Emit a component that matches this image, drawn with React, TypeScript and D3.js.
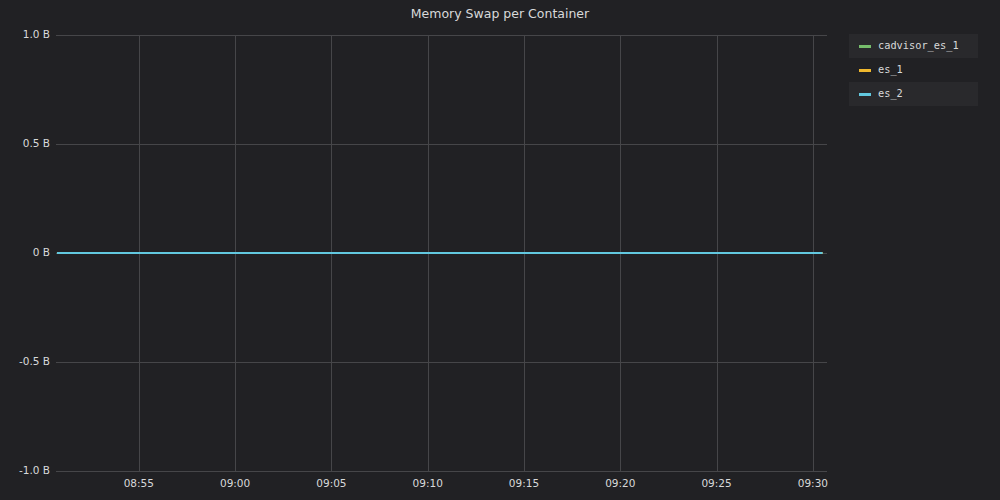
import * as d3 from "d3";
import {useEffect, useRef} from "react";

// sample times (hh:mm:ss, same day) and values in bytes
const times = ["08:50:45", "08:55:00", "09:00:00", "09:05:00", "09:10:00", "09:15:00", "09:20:00", "09:25:00", "09:30:00", "09:30:30"];
const cadvisorEs1 = [0, 0, 0, 0, 0, 0, 0, 0, 0, 0];
const es1 = [0, 0, 0, 0, 0, 0, 0, 0, 0, 0];
const es2 = [0, 0, 0, 0, 0, 0, 0, 0, 0, 0];
const seriesNames = ["cadvisor_es_1", "es_1", "es_2"];
const seriesColors = ["#76bd6b", "#f0b82e", "#62c8df"];
const yTicks = [-1, -0.5, 0, 0.5, 1];
const xDomain = ["08:50:42", "09:30:44"];

const parse = (s: string) => d3.timeParse("%Y-%m-%d %H:%M:%S")("2020-01-01 " + s) as Date;

const App = () => {
    const ref = useRef<SVGSVGElement>(null);

    useEffect(() => {
        const svg = d3.select(ref.current);
        svg.selectAll("*").remove();

        const W = 1000, H = 500;
        const margin = {top: 35, right: 173, bottom: 29, left: 56};
        const width = W - margin.left - margin.right,
            height = H - margin.top - margin.bottom;

        svg.append("rect").attr("width", W).attr("height", H).attr("fill", "#212124");

        svg.append("text")
            .attr("x", 500).attr("y", 18)
            .attr("text-anchor", "middle")
            .attr("fill", "#d8d9da")
            .style("font-family", "DejaVu Sans")
            .style("font-size", "12.5px")
            .text("Memory Swap per Container");

        const g = svg.append("g").attr("transform", `translate(${margin.left}, ${margin.top})`);

        const x = d3.scaleTime().domain(xDomain.map(parse)).range([0, width]);
        const y = d3.scaleLinear().domain([-1, 1]).range([height, 0]);

        // grid
        const tickTimes = times.slice(1, 9).map(parse);
        g.selectAll(".vgrid").data(tickTimes).join("line")
            .attr("x1", d => Math.round(x(d)) + 0.5).attr("x2", d => Math.round(x(d)) + 0.5)
            .attr("y1", 0).attr("y2", height)
            .attr("stroke", "#464649").attr("stroke-width", 1);
        g.selectAll(".hgrid").data(yTicks).join("line")
            .attr("x1", 0).attr("x2", width)
            .attr("y1", d => Math.round(y(d)) + 0.5).attr("y2", d => Math.round(y(d)) + 0.5)
            .attr("stroke", "#464649").attr("stroke-width", 1);

        // axes labels
        const fmtY = (v: number) => (v === 0 ? "0" : d3.format(".1f")(v).replace("−", "-")) + " B";
        g.selectAll(".ylab").data(yTicks).join("text")
            .attr("x", -6).attr("y", d => y(d)).attr("dy", "0.32em")
            .attr("text-anchor", "end")
            .attr("fill", "#d8d9da")
            .style("font-family", "DejaVu Sans").style("font-size", "10.5px")
            .text(fmtY);
        g.selectAll(".xlab").data(tickTimes).join("text")
            .attr("x", d => x(d)).attr("y", height + 16)
            .attr("text-anchor", "middle")
            .attr("fill", "#d8d9da")
            .style("font-family", "DejaVu Sans").style("font-size", "10.5px")
            .text(d => d3.timeFormat("%H:%M")(d));

        // lines
        const allSeries = [cadvisorEs1, es1, es2];
        const line = d3.line<number>()
            .x((d, i) => x(parse(times[i])))
            .y(d => y(d));
        g.selectAll(".series").data(allSeries).join("path")
            .attr("d", d => line(d))
            .attr("fill", "none")
            .attr("stroke", (d, i) => seriesColors[i])
            .attr("stroke-width", 2);

        // legend
        const lg = svg.append("g").attr("transform", "translate(849, 34)");
        seriesNames.forEach((name, i) => {
            const row = lg.append("g").attr("transform", `translate(0, ${i * 24})`);
            if (i % 2 === 0) row.append("rect").attr("width", 129).attr("height", 24).attr("fill", "#29292c");
            row.append("rect").attr("x", 10).attr("y", 11).attr("width", 12).attr("height", 3).attr("fill", seriesColors[i]);
            row.append("text")
                .attr("x", 29).attr("y", 12).attr("dy", "0.32em")
                .attr("fill", "#d8d9da")
                .style("font-family", "DejaVu Sans Mono").style("font-size", "10.3px")
                .text(name);
        });
    }, []);

    return (
        <div style={{position: "fixed", top: 0, left: 0}}>
            <svg ref={ref} width={1000} height={500} style={{display: "block"}}/>
        </div>
    );
};

export default App;
